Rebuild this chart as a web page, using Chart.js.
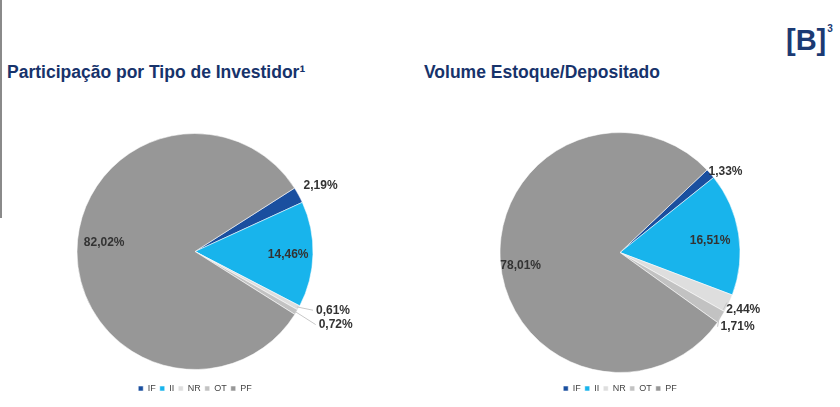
<!DOCTYPE html>
<html>
<head>
<meta charset="utf-8">
<script src="https://cdn.jsdelivr.net/npm/chart.js@4/dist/chart.umd.min.js"></script>
<style>
  body { margin: 0; background: #fff; font-family: "Liberation Sans", Arial, sans-serif; }
  #page { position: relative; width: 840px; height: 407px; overflow: hidden; }
  .title { position: absolute; top: 62px; font-size: 17.5px; font-weight: bold; color: #17336b; white-space: nowrap; }
  .box { position: absolute; top: 0; width: 420px; height: 407px; }
  #edge { position: absolute; left: 0; top: 0; width: 2px; height: 218px; background: #8a8a8a; }
  #logo { position: absolute; left: 786px; top: 24px; color: #1b3a73; font-weight: bold; font-size: 29px; }
  #logo sup { font-size: 10px; position: relative; top: -7px; margin-left: 1px; }
</style>
</head>
<body>
<div id="page">
  <div id="edge"></div>
  <div id="logo">[B]<sup>3</sup></div>
  <div class="title" style="left:7px">Participação por Tipo de Investidor¹</div>
  <div class="title" style="left:424px">Volume Estoque/Depositado</div>
  <div class="box" style="left:0"><canvas id="chartLeft"></canvas></div>
  <div class="box" style="left:420px"><canvas id="chartRight"></canvas></div>
</div>
<script>
const categories = ['IF', 'II', 'NR', 'OT', 'PF'];
const participacao = [2.19, 14.46, 0.61, 0.72, 82.02];
const volumeEstoque = [1.33, 16.51, 2.44, 1.71, 78.01];

const sliceColors = ['#1a4f9f', '#18b4ec', '#dedede', '#c2c2c2', '#979797'];

// label placement per slice: radius factor, extra px, nudges, leader line
const leftLabels = [
  { f: 1, add: 25, dx: 0, dy: 3, line: false },
  { f: 0.79, add: 0, dx: 0, dy: 1, line: false },
  { f: 1, add: 30, dx: 8, dy: -12, line: true },
  { f: 1, add: 32, dx: 12, dy: -4, line: true },
  { f: 0.77, add: 0, dx: 0, dy: -9, line: false }
];
const rightLabels = [
  { f: 1, add: 20, dx: 0, dy: 11, line: false },
  { f: 0.76, add: 0, dx: 0, dy: 2, line: false },
  { f: 1, add: 15, dx: 1, dy: 0, line: true },
  { f: 1, add: 16, dx: 3, dy: 1, line: true },
  { f: 0.83, add: 0, dx: 0, dy: 6, line: false }
];

function fmt(v) {
  return v.toFixed(2).replace('.', ',') + '%';
}

const pieLabels = {
  id: 'pieLabels',
  afterDatasetsDraw(chart, args, opts) {
    const ctx = chart.ctx;
    const meta = chart.getDatasetMeta(0);
    const values = chart.data.datasets[0].data;
    ctx.save();
    ctx.font = 'bold 12px "Liberation Sans", Arial, sans-serif';
    ctx.fillStyle = '#333';
    ctx.textAlign = 'center';
    ctx.textBaseline = 'middle';
    meta.data.forEach((arc, i) => {
      const p = arc.getProps(['x', 'y', 'startAngle', 'endAngle', 'outerRadius'], true);
      const cfg = opts.place[i];
      const mid = (p.startAngle + p.endAngle) / 2;
      const d = p.outerRadius * cfg.f + cfg.add;
      const lx = p.x + Math.cos(mid) * d + cfg.dx;
      const ly = p.y + Math.sin(mid) * d + cfg.dy;
      if (cfg.line) {
        const ex = p.x + Math.cos(mid) * (p.outerRadius - 2);
        const ey = p.y + Math.sin(mid) * (p.outerRadius - 2);
        ctx.strokeStyle = '#c8c8c8';
        ctx.lineWidth = 1;
        ctx.beginPath();
        ctx.moveTo(ex, ey);
        ctx.lineTo(lx - 20, ly);
        ctx.stroke();
      }
      ctx.fillText(fmt(values[i]), lx, ly);
    });
    ctx.restore();
  }
};

function makePie(id, values, rotation, radius, place, padding) {
  new Chart(document.getElementById(id), {
    type: 'pie',
    data: {
      labels: categories,
      datasets: [{
        data: values,
        backgroundColor: sliceColors,
        borderColor: 'rgba(255,255,255,0.55)',
        borderWidth: 1
      }]
    },
    options: {
      responsive: true,
      maintainAspectRatio: false,
      animation: false,
      rotation: rotation,
      radius: radius,
      layout: { padding: padding },
      plugins: {
        tooltip: { enabled: false },
        legend: {
          position: 'bottom',
          labels: {
            boxWidth: 5,
            boxHeight: 5,
            padding: 4,
            color: '#444',
            font: { size: 9, family: '"Liberation Sans", Arial, sans-serif' }
          }
        },
        pieLabels: { place: place }
      }
    },
    plugins: [pieLabels]
  });
}

makePie('chartLeft', participacao, 57.5, 118, leftLabels, { left: 75, right: 105, top: 123, bottom: 4 });
makePie('chartRight', volumeEstoque, 46.5, 120, rightLabels, { left: 80, right: 100, top: 125, bottom: 4 });
</script>
</body>
</html>
